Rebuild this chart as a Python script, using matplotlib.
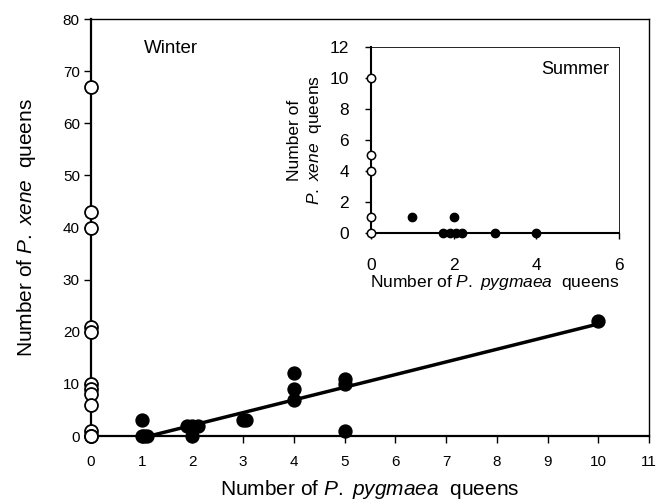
import matplotlib
matplotlib.use("Agg")
import matplotlib.pyplot as plt
import numpy as np

plt.rcParams['font.family'] = ['Liberation Sans', 'DejaVu Sans']
plt.rcParams['mathtext.fontset'] = 'custom'
plt.rcParams['mathtext.rm'] = 'Liberation Sans'
plt.rcParams['mathtext.it'] = 'Liberation Sans:italic'

# winter data
winter_open_x = [0] * 12
winter_open_y = [67, 43, 40, 21, 20, 10, 9, 8, 6, 1, 0, 0]
winter_fill_x = [1, 1, 1.05, 1.1, 1.9, 2, 2.1, 2, 3, 3.05, 4, 4, 4, 5, 5, 5, 10]
winter_fill_y = [3, 0, 0, 0, 2, 2, 2, 0, 3, 3, 12, 9, 7, 11, 10, 1, 22]
fit_x = [1.15, 10]
fit_y = [0, 21.5]

# summer data (inset)
summer_open_x = [0] * 5
summer_open_y = [10, 5, 4, 1, 0]
summer_fill_x = [1, 2, 1.75, 1.9, 2.05, 2.2, 3, 4]
summer_fill_y = [1, 1, 0, 0, 0, 0, 0, 0]

fig = plt.figure(figsize=(6.7, 5.03), dpi=100)
ax = fig.add_axes([0.1358, 0.1332, 0.8329, 0.829])

ax.plot(fit_x, fit_y, color='black', lw=2.5, zorder=2)
ax.plot(winter_open_x, winter_open_y, 'o', mfc='white', mec='black', mew=1.3,
        ms=9.3, ls='none', clip_on=False, zorder=3)
ax.plot(winter_fill_x, winter_fill_y, 'o', color='black', ms=9.3, ls='none',
        clip_on=False, zorder=3)

ax.set_xlim(0, 11)
ax.set_ylim(0, 80)
ax.set_xticks(np.arange(0, 12, 1))
ax.set_yticks(np.arange(0, 90, 10))
ax.tick_params(direction='out', length=5, width=1, labelsize=11)
ax.tick_params(axis='x', pad=9)
ax.tick_params(axis='y', pad=3)
for side in ['left', 'bottom']:
    ax.spines[side].set_linewidth(1.6)
for side in ['top', 'right']:
    ax.spines[side].set_linewidth(1.0)
ax.set_xlabel(r'Number of $\it{P.\ pygmaea}$  queens', fontsize=15, labelpad=6)
ax.set_ylabel(r'Number of $\it{P.\ xene}$  queens', fontsize=15, labelpad=18)
ax.text(0.095, 0.93, 'Winter', transform=ax.transAxes, fontsize=13.5, va='center')

ins = fig.add_axes([0.5537, 0.5368, 0.3701, 0.3698])
ins.plot(summer_open_x, summer_open_y, 'o', mfc='white', mec='black', mew=1.1,
         ms=6, ls='none', clip_on=False, zorder=3)
ins.plot(summer_fill_x, summer_fill_y, 'o', color='black', ms=6, ls='none',
         clip_on=False, zorder=3)
ins.set_xlim(0, 6)
ins.set_ylim(0, 12)
ins.set_xticks([0, 2, 4, 6])
ins.set_yticks(np.arange(0, 14, 2))
ins.tick_params(direction='out', length=4, width=1, labelsize=12.5)
ins.tick_params(axis='y', pad=12)
ins.tick_params(axis='x', pad=14)
for side in ['left', 'bottom']:
    ins.spines[side].set_linewidth(1.5)
for side in ['top', 'right']:
    ins.spines[side].set_linewidth(0.6)
ins.set_xlabel(r'Number of $\it{P.\ pygmaea}$  queens', fontsize=12.5, labelpad=0)
ins.set_ylabel('Number of\n' + r'$\it{P.\ xene}$  queens', fontsize=12.5, labelpad=4)
ins.text(0.96, 0.88, 'Summer', transform=ins.transAxes, fontsize=13, ha='right', va='center')

fig.savefig('out.png', dpi=100)
